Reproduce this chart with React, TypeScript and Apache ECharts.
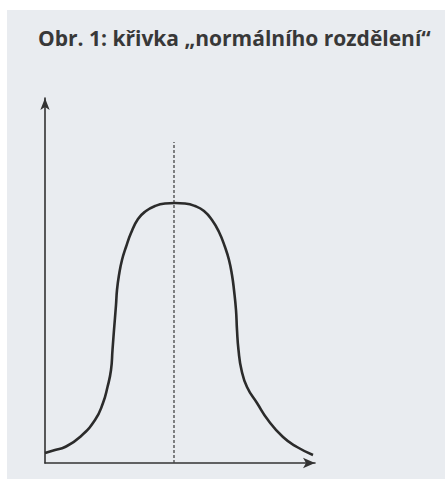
import React, { useEffect, useRef } from "react";
import * as echarts from "echarts";

const titleText = "Obr. 1: křivka „normálního rozdělení“";

// curve (x: horizontal position, y: height above the x axis)
const curveX = [0, 10, 20, 35, 50, 58, 62.5, 66, 67.5, 69, 71, 72, 74, 77, 81, 86, 93, 101, 110, 120, 130,
  140, 150, 159, 167, 174, 180, 184, 187, 189, 191, 192, 193.5, 196.5, 202, 212, 223, 238, 252, 268];
const curveY = [10, 13, 16, 26, 43, 60, 76, 93, 113, 133, 158, 173, 188, 203, 216, 230, 244, 252, 257, 259.5, 260,
  259.5, 257, 252, 243, 231, 216, 203, 188, 173, 153, 133, 113, 93, 76, 60, 43, 26, 16, 8];

// dotted vertical line through the peak
const meanX = [129, 129];
const meanY = [0, 321];

export default function App() {
  const ref = useRef<HTMLDivElement>(null);
  useEffect(() => {
    document.body.style.margin = "0";
    const chart = echarts.init(ref.current!, null, { renderer: "svg" });
    chart.setOption({
      animation: false,
      backgroundColor: "#ffffff",
      graphic: [
        {
          type: "rect",
          z: -10,
          shape: { x: 7, y: 10, width: 445, height: 479 },
          style: { fill: "#e9ecf0" },
          silent: true,
        },
      ],
      title: {
        text: titleText,
        left: 33,
        top: 22,
        textStyle: {
          fontFamily: "Open Sans",
          fontWeight: "bold",
          fontSize: 21,
          color: "#383838",
        },
      },
      grid: { left: 45, right: 130, top: 98, bottom: 16 },
      xAxis: {
        type: "value",
        min: 0,
        max: 270,
        axisLine: {
          show: true,
          symbol: ["none", "arrow"],
          symbolSize: [8, 12],
          lineStyle: { color: "#333", width: 1.6 },
        },
        axisTick: { show: false },
        axisLabel: { show: false },
        splitLine: { show: false },
      },
      yAxis: {
        type: "value",
        min: 0,
        max: 365,
        axisLine: {
          show: true,
          symbol: ["none", "arrow"],
          symbolSize: [7, 12],
          lineStyle: { color: "#333", width: 1.6 },
        },
        axisTick: { show: false },
        axisLabel: { show: false },
        splitLine: { show: false },
      },
      series: [
        {
          type: "line",
          data: meanX.map((x, i) => [x, meanY[i]]),
          symbol: "none",
          lineStyle: { color: "#444", width: 1.3, type: [3, 2] },
          silent: true,
        },
        {
          type: "line",
          data: curveX.map((x, i) => [x, curveY[i]]),
          symbol: "none",
          smooth: 0.5,
          smoothConstraint: false,
          clip: false,
          lineStyle: { color: "#2b2b2b", width: 2.6 },
          silent: true,
        },
      ],
    });
    return () => chart.dispose();
  }, []);
  return <div ref={ref} style={{ width: 445, height: 479 }} />;
}
